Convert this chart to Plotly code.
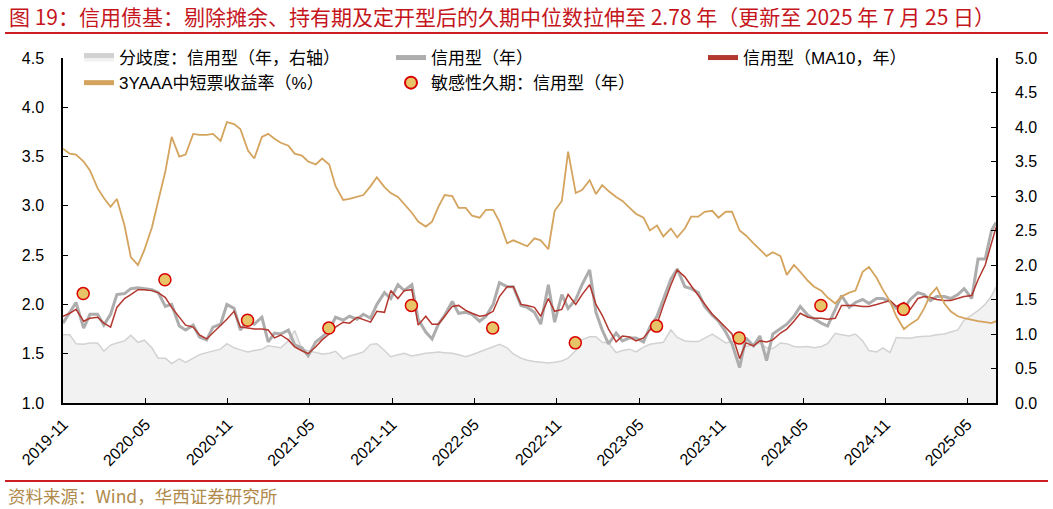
import pandas as pd
import plotly.graph_objects as go

# ---------------- data ----------------
# semi-monthly observation dates (1st / 15th of each month)
DATES = (["2019-11-16"]
         + [d.strftime("%Y-%m-%d") for d in pd.date_range("2019-12-01", "2025-07-15", freq="SMS")]
         + ["2025-07-25"])

# 分歧度：信用型（年，右轴）
DIVERGENCE = [
    0.99, 0.99, 0.86,
    0.85, 0.87, 0.87, 0.75, 0.84, 0.87, 0.90, 0.98, 0.88, 0.91, 0.80, 0.65,
    0.65, 0.57, 0.64, 0.59, 0.65, 0.70, 0.73, 0.75, 0.78, 0.86, 0.80, 0.77,
    0.74, 0.76, 0.78, 0.83, 0.82, 0.80, 0.90, 1.05, 0.78, 0.76, 0.74, 0.71,
    0.72, 0.75, 0.64, 0.68, 0.71, 0.74, 0.85, 0.86, 0.76, 0.67, 0.70, 0.72,
    0.68, 0.70, 0.72, 0.73, 0.74, 0.73, 0.72, 0.70, 0.67, 0.70, 0.74, 0.78,
    0.82, 0.85, 0.80, 0.71, 0.65, 0.62, 0.60, 0.59, 0.58, 0.59, 0.61, 0.65,
    0.76, 0.92, 0.96, 0.96, 0.88, 0.87, 0.73, 0.76, 0.78, 0.74, 0.81, 0.85,
    0.87, 0.88, 1.06, 0.95, 0.90, 0.89, 0.89, 0.94, 1.00, 0.94, 0.87, 0.89,
    0.86, 0.82, 0.84, 0.87, 0.80, 0.79, 0.87, 0.86, 0.82, 0.81, 0.82, 0.80,
    0.82, 0.86, 1.01, 0.99, 0.97, 1.00, 0.90, 0.76, 0.74, 0.80, 0.73, 0.95,
    0.95, 0.94, 0.96, 0.96, 0.97, 0.99, 1.00, 1.03, 1.06, 1.20, 1.28, 1.34,
    1.43, 1.55, 1.68,
]

# 信用型（年）
CREDIT = [
    1.81, 1.92, 2.02,
    1.76, 1.90, 1.90, 1.79, 1.90, 2.10, 2.11, 2.16, 2.17, 2.16, 2.15, 2.12,
    1.98, 2.00, 1.78, 1.74, 1.79, 1.67, 1.64, 1.77, 1.80, 2.00, 1.96, 1.74,
    1.84, 1.80, 1.87, 1.62, 1.71, 1.70, 1.74, 1.59, 1.56, 1.48, 1.62, 1.67,
    1.74, 1.87, 1.84, 1.88, 1.85, 1.90, 1.86, 2.00, 2.12, 2.06, 2.20, 2.14,
    2.20, 1.85, 1.72, 1.65, 1.80, 1.89, 2.03, 1.91, 1.92, 1.90, 1.83, 1.88,
    2.00, 2.22, 2.18, 2.18, 1.99, 1.97, 1.92, 1.80, 2.20, 1.82, 2.10, 1.96,
    2.05, 2.20, 2.35, 1.92, 1.74, 1.60, 1.71, 1.63, 1.66, 1.66, 1.62, 1.77,
    1.88, 2.05, 2.26, 2.36, 2.18, 2.16, 2.12, 1.98, 1.89, 1.83, 1.72, 1.60,
    1.36, 1.66, 1.58, 1.68, 1.43, 1.70, 1.75, 1.80, 1.88, 1.98, 1.89, 1.85,
    1.81, 1.78, 1.95, 2.09, 1.97, 2.02, 2.05, 2.01, 2.06, 2.06, 2.03, 1.96,
    1.96, 2.05, 2.12, 2.10, 2.04, 2.08, 2.08, 2.06, 2.10, 2.16, 2.06, 2.46,
    2.46, 2.75, 2.83,
]

# 信用型（MA10，年）
CREDIT_MA10 = [
    1.88, 1.91, 1.95,
    1.83, 1.86, 1.87, 1.81, 1.77, 1.97, 2.06, 2.10, 2.15, 2.15, 2.14, 2.12,
    2.07, 1.97, 1.87, 1.79, 1.77, 1.69, 1.65, 1.71, 1.78, 1.85, 1.93, 1.77,
    1.76, 1.75, 1.75, 1.74, 1.66, 1.69, 1.64, 1.57, 1.53, 1.50, 1.57, 1.64,
    1.70, 1.77, 1.82, 1.81, 1.87, 1.85, 1.82, 1.93, 1.92, 2.14, 2.06, 2.14,
    2.15, 1.79, 1.88, 1.80, 1.80, 1.88, 1.98, 1.99, 1.94, 1.91, 1.88, 1.89,
    1.93, 2.08, 2.18, 2.18, 2.00, 1.99, 1.97, 1.88, 2.06, 1.93, 1.95, 2.10,
    2.00, 2.10, 2.20, 2.00, 1.89, 1.75, 1.62, 1.68, 1.67, 1.63, 1.66, 1.74,
    1.80, 1.99, 2.20, 2.35, 2.28, 2.19, 2.09, 2.01, 1.90, 1.84, 1.77, 1.70,
    1.45, 1.61, 1.58, 1.63, 1.62, 1.64, 1.71, 1.75, 1.83, 1.91, 1.87, 1.86,
    1.86, 1.85, 1.86, 1.99, 1.99, 1.99, 1.98, 1.98, 2.00, 2.02, 2.04, 1.98,
    2.02, 1.95, 2.06, 2.08, 2.07, 2.05, 2.04, 2.04, 2.06, 2.08, 2.09, 2.25,
    2.40, 2.62, 2.78,
]

# 3YAAA中短票收益率（%）
YIELD_3Y_AAA = [
    3.58, 3.53, 3.52,
    3.45, 3.36, 3.18, 3.08, 2.99, 3.07, 2.80, 2.48, 2.40, 2.55, 2.78, 3.05,
    3.35, 3.70, 3.50, 3.52, 3.73, 3.72, 3.72, 3.73, 3.66, 3.85, 3.83, 3.78,
    3.56, 3.48, 3.70, 3.73, 3.68, 3.64, 3.61, 3.53, 3.51, 3.45, 3.42, 3.48,
    3.42, 3.20, 3.06, 3.07, 3.09, 3.11, 3.20, 3.29, 3.19, 3.13, 3.09, 3.02,
    2.93, 2.84, 2.79, 2.84, 2.99, 3.11, 3.10, 2.98, 2.98, 2.90, 2.88, 2.96,
    2.96, 2.84, 2.62, 2.65, 2.62, 2.59, 2.67, 2.65, 2.56, 2.95, 3.05, 3.55,
    3.13, 3.16, 3.26, 3.12, 3.21, 3.15, 3.09, 3.05, 2.98, 2.92, 2.88, 2.75,
    2.80, 2.69, 2.77, 2.68, 2.77, 2.89, 2.89, 2.94, 2.95, 2.88, 2.94, 2.94,
    2.75, 2.70, 2.62, 2.56, 2.49, 2.53, 2.49, 2.30, 2.40, 2.33, 2.24, 2.18,
    2.14, 2.07, 2.01, 2.08, 2.12, 2.14, 2.33, 2.38, 2.27, 2.15, 2.03, 1.88,
    1.75, 1.80, 1.85, 1.96, 2.10, 2.17, 2.01, 1.93, 1.88, 1.86, 1.84, 1.83,
    1.82, 1.81, 1.83,
]

# 敏感性久期：信用型（年）, semi-annual report dates
SENS_DATES = ["2019-12-31", "2020-06-30", "2020-12-31", "2021-06-30", "2021-12-31",
              "2022-06-30", "2022-12-31", "2023-06-30", "2023-12-31", "2024-06-30",
              "2024-12-31"]
SENS_DURATION = [2.11, 2.25, 1.84, 1.76, 1.99, 1.76, 1.61, 1.78, 1.66, 1.99, 1.95]

# x-axis tick labels (category-style labels every ~half year)
TICK_DATES = ["2019-11-17", "2020-05-18", "2020-11-17", "2021-05-19", "2021-11-18",
              "2022-05-20", "2022-11-20", "2023-05-22", "2023-11-21", "2024-05-22",
              "2024-11-21", "2025-05-22"]
TICK_LABELS = ["2019-11", "2020-05", "2020-11", "2021-05", "2021-11", "2022-05",
               "2022-11", "2023-05", "2023-11", "2024-05", "2024-11", "2025-05"]

TITLE = "图 19：信用债基：剔除摊余、持有期及定开型后的久期中位数拉伸至 2.78 年（更新至 2025 年 7 月 25 日）"
SOURCE = "资料来源：Wind，华西证券研究所"

# ---------------- figure ----------------
FONT = "Arial, 'Liberation Sans', 'Noto Sans CJK SC', sans-serif"
CJK = "'Noto Sans CJK SC', 'Liberation Sans', sans-serif"

fig = go.Figure()

fig.add_trace(go.Scatter(
    x=DATES, y=DIVERGENCE, name="分歧度：信用型（年，右轴）",
    mode="lines", fill="tozeroy", fillcolor="#F2F2F2",
    line=dict(color="#D2D2D2", width=1.5), yaxis="y", legend="legend"))

fig.add_trace(go.Scatter(
    x=DATES, y=CREDIT, name="信用型（年）", mode="lines",
    line=dict(color="#ADADAD", width=3), yaxis="y2", legend="legend2"))

fig.add_trace(go.Scatter(
    x=DATES, y=CREDIT_MA10, name="信用型（MA10，年）", mode="lines",
    line=dict(color="#B3372E", width=1.5), yaxis="y2", legend="legend3"))

fig.add_trace(go.Scatter(
    x=DATES, y=YIELD_3Y_AAA, name="3YAAA中短票收益率（%）", mode="lines",
    line=dict(color="#D4A45E", width=1.8), yaxis="y2", legend="legend"))

fig.add_trace(go.Scatter(
    x=SENS_DATES, y=SENS_DURATION, name="敏感性久期：信用型（年）", mode="markers",
    marker=dict(size=12, color="#E8C468", line=dict(color="#D90000", width=1.5)),
    yaxis="y2", legend="legend2"))

L, R, T, B = 63, 57, 58, 106
W, H = 1053, 509
PW, PH = W - L - R, H - T - B


def px(xpix):
    return (xpix - L) / PW


def py(ypix):
    return (H - B - ypix) / PH


legend_common = dict(
    orientation="v", yanchor="top", xanchor="left", bgcolor="rgba(0,0,0,0)",
    font=dict(family=FONT, size=17, color="#000000"), itemsizing="constant",
    tracegroupgap=0)

axis_common = dict(
    ticks="inside", ticklen=5, tickwidth=1.2, tickcolor="#000000",
    showline=True, linecolor="#000000", linewidth=1.5,
    showgrid=False, zeroline=False, automargin=False,
    tickfont=dict(family=FONT, size=16, color="#000000"))

fig.update_layout(
    width=W, height=H,
    margin=dict(l=L, r=R, t=T, b=B, autoexpand=False),
    paper_bgcolor="white", plot_bgcolor="white",
    font=dict(family=FONT, size=16, color="#000000"),
    showlegend=True,
    legend=dict(x=px(79), y=py(40), **legend_common),
    legend2=dict(x=px(391), y=py(40), **legend_common),
    legend3=dict(x=px(703), y=py(40), **legend_common),
    xaxis=dict(type="date", range=["2019-11-16", "2025-07-25"],
               tickmode="array", tickvals=TICK_DATES, ticktext=TICK_LABELS,
               tickangle=-45, ticklabelstandoff=4, **axis_common),
    yaxis=dict(side="right", range=[0, 5], tickmode="array",
               tickvals=[0, 0.5, 1, 1.5, 2, 2.5, 3, 3.5, 4, 4.5, 5],
               tickformat=".1f", ticklabelstandoff=14, **axis_common),
    yaxis2=dict(side="left", overlaying="y", range=[1, 4.5], tickmode="array",
                tickvals=[1, 1.5, 2, 2.5, 3, 3.5, 4, 4.5],
                tickformat=".1f", ticklabelstandoff=14, **axis_common),
    annotations=[
        dict(text=TITLE, xref="paper", yref="paper", x=px(7), y=py(16),
             xanchor="left", yanchor="middle", showarrow=False,
             font=dict(family=CJK, size=21, color="#C5161D")),
        dict(text=SOURCE, xref="paper", yref="paper", x=px(6), y=py(495),
             xanchor="left", yanchor="middle", showarrow=False,
             font=dict(family=CJK, size=17.5, color="#B08A4A")),
    ],
    shapes=[
        dict(type="line", xref="paper", yref="paper", x0=px(5), x1=px(1048),
             y0=py(33), y1=py(33), line=dict(color="#CC2020", width=2)),
        dict(type="line", xref="paper", yref="paper", x0=px(5), x1=px(1048),
             y0=py(481), y1=py(481), line=dict(color="#CC2020", width=2)),
    ],
)

# remove the browser's default 8px page margin so the figure fills the window
fig.write_html("out.html",
               config={"displayModeBar": False},
               post_script="document.body.style.margin='0';document.body.style.overflow='hidden';")
